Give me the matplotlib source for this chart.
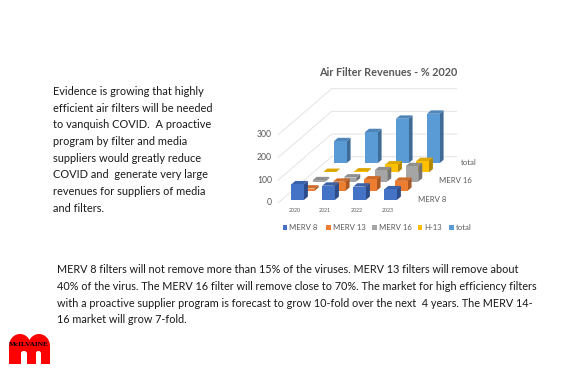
import matplotlib
matplotlib.use("Agg")
import matplotlib.pyplot as plt
from matplotlib.patches import Polygon, Rectangle, Ellipse

# ---------- data ----------

years = ["2020", "2021", "2022", "2023"]
series = ["MERV 8", "MERV 13", "MERV 16", "H-13", "total"]
merv8 = [69, 63, 59, 47]
merv13 = [10, 40, 50, 44]
merv16 = [6, 18, 50, 68]
h13 = [2, 4, 35, 50]
total = [97, 137, 196, 218]
yticks = [0, 100, 200, 300]
row_labels = {"MERV 8": 0, "MERV 16": 2, "total": 4}

side_text = ["Evidence is growing that highly",
             "efficient air filters will be needed",
             "to vanquish COVID.  A proactive",
             "program by filter and media",
             "suppliers would greatly reduce",
             "COVID and  generate very large",
             "revenues for suppliers of media",
             "and filters."]
bottom_text = ["MERV 8 filters will not remove more than 15% of the viruses. MERV 13 filters will remove about",
               "40% of the virus. The MERV 16 filter will remove close to 70%. The market for high efficiency filters",
               "with a proactive supplier program is forecast to grow 10-fold over the next  4 years. The MERV 14-",
               "16 market will grow 7-fold."]

front_cols = ["#4472C4", "#ED7D31", "#A5A5A5", "#FFC000", "#5B9BD5"]
top_cols = ["#3A62AB", "#CF6C2A", "#8F8F8F", "#DDA700", "#4F86B9"]
side_cols = ["#2C4D8A", "#A85820", "#747474", "#B38700", "#3E6C96"]

# ---------- oblique projection, all in pixels of the 575x371 picture ----------

X0, Y0 = 291.3, 200.0    # front left foot of the first bar
CAT_DX = 31.0
ROW_DX, ROW_DY = 10.67, 9.2
BAR_W = 12.6
DEPTH_X, DEPTH_Y = 4.0, 3.4
VAL_Y = 0.2267


def project(cat, row, val):
    return X0 + cat * CAT_DX + row * ROW_DX, Y0 - row * ROW_DY - val * VAL_Y


def draw_bar(ax, cat, row, val):
    x, yb = project(cat, row, 0)
    _, yt = project(cat, row, val)
    front = [(x, yb), (x + BAR_W, yb), (x + BAR_W, yt), (x, yt)]
    side = [(x + BAR_W, yb), (x + BAR_W + DEPTH_X, yb - DEPTH_Y),
            (x + BAR_W + DEPTH_X, yt - DEPTH_Y), (x + BAR_W, yt)]
    top = [(x, yt), (x + BAR_W, yt), (x + BAR_W + DEPTH_X, yt - DEPTH_Y), (x + DEPTH_X, yt - DEPTH_Y)]
    ax.add_patch(Polygon(side, fc=side_cols[row], ec="none"))
    ax.add_patch(Polygon(top, fc=top_cols[row], ec="none"))
    ax.add_patch(Polygon(front, fc=front_cols[row], ec="none"))


fig = plt.figure(figsize=(5.75, 3.71), dpi=100)
ax = fig.add_axes([0, 0, 1, 1])
ax.set_xlim(0, 575)
ax.set_ylim(371, 0)
ax.axis("off")

TEXT_FONT = ["Lato", "DejaVu Sans"]
TEXT_COL = "#1a1a1a"
CHART_COL = "#595959"

for i, line in enumerate(side_text):
    ax.text(53, 91.5 + i * 16.7, line, fontsize=7.9, family=TEXT_FONT, color=TEXT_COL, va="center")
for i, line in enumerate(bottom_text):
    ax.text(57, 269.5 + i * 16.8, line, fontsize=7.82, family=TEXT_FONT, color=TEXT_COL, va="center")

ax.text(388, 72.7, "Air Filter Revenues - % 2020", fontsize=7.85, family=TEXT_FONT, weight="bold",
        color=CHART_COL, ha="center", va="center")

# walls and gridlines
wall_x, wall_y = 278.3, 202.7
wall_dx, wall_dy = 53.3, 46.0
wall_len = 125.0
for t in yticks:
    y = wall_y - t * VAL_Y
    ax.plot([wall_x, wall_x + wall_dx, wall_x + wall_dx + wall_len], [y, y - wall_dy, y - wall_dy],
            color="#e3e3e3", lw=0.7, zorder=0)
    ax.text(272, y, str(t), fontsize=6.2, family=TEXT_FONT, color=CHART_COL, ha="right", va="center")

# bars, back row first
values = [merv8, merv13, merv16, h13, total]
for row in range(len(series) - 1, -1, -1):
    for cat in range(len(years)):
        draw_bar(ax, cat, row, values[row][cat])

for i, yr in enumerate(years):
    ax.text(project(i, 0, 0)[0] + 3, 210.7, yr, fontsize=3.8, family=TEXT_FONT, color=CHART_COL,
            ha="center", va="center")

for name, row in row_labels.items():
    x, y = project(len(years), row, 0)
    ax.text(x + 2.5, y - 1, name, fontsize=5.6, family=TEXT_FONT, color=CHART_COL, va="center")

# legend
leg_x = [282.5, 326, 372, 417.5, 449]
for name, x, c in zip(series, leg_x, front_cols):
    ax.add_patch(Rectangle((x, 224.7), 4.8, 4.8, fc=c, ec="none"))
    ax.text(x + 6.8, 227.2, name, fontsize=5.6, family=TEXT_FONT, color=CHART_COL, va="center")

# logo
red = "#FF0000"
ax.add_patch(Ellipse((20, 346), 22, 24, fc=red, ec="none"))
ax.add_patch(Ellipse((39, 346), 22, 24, fc=red, ec="none"))
ax.add_patch(Rectangle((9, 346), 12, 17.5, fc=red, ec="none"))
ax.add_patch(Rectangle((26.8, 346), 9.2, 17.5, fc=red, ec="none"))
ax.add_patch(Rectangle((40.8, 346), 9.2, 17.5, fc=red, ec="none"))
ax.add_patch(Rectangle((21, 353), 5.8, 11, fc="white", ec="none"))
ax.add_patch(Rectangle((36, 353), 4.8, 11, fc="white", ec="none"))
ax.add_patch(Ellipse((23.9, 353), 5.8, 4, fc="white", ec="none"))
ax.add_patch(Ellipse((38.4, 353), 4.8, 4, fc="white", ec="none"))
ax.text(29, 345, "McILVAINE", fontsize=5.2, family="Liberation Serif", weight="bold",
        color="black", ha="center", va="center")

fig.savefig("out.png", dpi=100)
